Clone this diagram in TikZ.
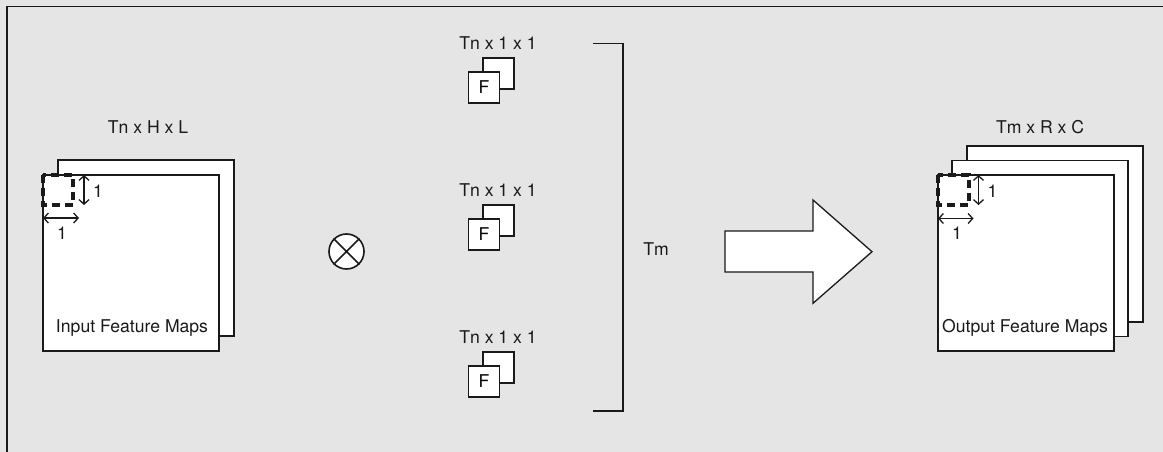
\documentclass[tikz,border=0pt]{standalone}
\usepackage{fontspec}
\setmainfont{TeX Gyre Heros}
\usetikzlibrary{arrows.meta}
\definecolor{bg}{HTML}{E5E5E5}
\definecolor{ink}{HTML}{1A1A1A}
\begin{document}
\begin{tikzpicture}[x=1pt,y=-1pt,
  sheet/.style={draw=ink, fill=white, line width=1.6pt, inner sep=0pt, outer sep=0pt, anchor=north west},
  lbl/.style={font=\fontsize{17.6}{20}\selectfont, inner sep=0pt, text=ink},
  dimarrow/.style={{Straight Barb[length=4.5pt,width=10pt]}-{Straight Barb[length=4.5pt,width=10pt]}, line width=1.3pt, draw=ink},
  win/.style={draw=ink, line width=3.4pt, dash pattern=on 8pt off 5pt},
  bracket/.style={draw=ink, line width=1.6pt}
]
\useasboundingbox (0,0) rectangle (1163,452);
\fill[bg] (0,0) rectangle (1163,452);
\draw[line width=1.8pt, ink] (7,452) -- (7,6.5) -- (1163,6.5);

% Input feature maps
\node[sheet, minimum width=176pt, minimum height=176pt] (in2) at (58,160) {};
\node[sheet, minimum width=176pt, minimum height=176pt] (in1) at (43,175) {};
\node[lbl, anchor=base] (intitle) at (148,133) {Tn x H x L};
\node[lbl, anchor=base] (intext) at (132,332.7) {Input Feature Maps};
\draw[win] (43,175) rectangle (73,205);
\coordinate (iva) at (84,175); \coordinate (ivb) at (84,205);
\draw[dimarrow] (iva) -- (ivb);
\coordinate (iha) at (43,218); \coordinate (ihb) at (79,218);
\draw[dimarrow] (iha) -- (ihb);
\node[lbl, anchor=base] (iv1) at (98,197) {1};
\node[lbl, anchor=base] (ih1) at (62,239) {1};

% Convolution operator
\node[circle, draw=ink, fill=white, line width=1.6pt, minimum size=35pt, inner sep=0pt] (op) at (346.5,251.5) {};
\draw[ink, line width=1.5pt] (op.north west) -- (op.south east) (op.north east) -- (op.south west);

% Filters
\foreach \i/\yt/\yb in {1/72/49.3, 2/219/196.7, 3/366/343.3}{
  \node[sheet, minimum size=31pt] (fb\i) at (483,\yt-14) {};
  \node[sheet, minimum size=31pt, font=\fontsize{17.6}{20}\selectfont] (ff\i) at (468.5,\yt) {F};
  \node[lbl, anchor=base] (ft\i) at (498,\yb) {Tn x 1 x 1};
}

% Bracket
\coordinate (bt) at (593,43.5); \coordinate (btc) at (623,43.5);
\coordinate (bbc) at (623,411); \coordinate (bb) at (593,411);
\draw[bracket] (bt) -- (btc) -- (bbc) -- (bb);
\node[lbl, anchor=base] (tm) at (656,255) {Tm};

% Big arrow
\draw[draw=ink, fill=white, line width=1.3pt]
  (725,231) -- (813,231) -- (813,200) -- (872,251.7) -- (813,303.3) -- (813,272) -- (725,272) -- cycle;

% Output feature maps
\node[sheet, minimum width=176pt, minimum height=176pt] (out3) at (967,146) {};
\node[sheet, minimum width=176pt, minimum height=176pt] (out2) at (952,160.5) {};
\node[sheet, minimum width=176pt, minimum height=176pt] (out1) at (938,175) {};
\node[lbl, anchor=base] (outtitle) at (1040,133) {Tm x R x C};
\node[lbl, anchor=base] (outtext) at (1025,332.7) {Output Feature Maps};
\draw[win] (938,175) rectangle (969,205);
\coordinate (ova) at (978.5,175); \coordinate (ovb) at (978.5,205);
\draw[dimarrow] (ova) -- (ovb);
\coordinate (oha) at (938,218.5); \coordinate (ohb) at (973.5,218.5);
\draw[dimarrow] (oha) -- (ohb);
\node[lbl, anchor=base] (ov1) at (992.5,197) {1};
\node[lbl, anchor=base] (oh1) at (957,239) {1};
\end{tikzpicture}
\end{document}
